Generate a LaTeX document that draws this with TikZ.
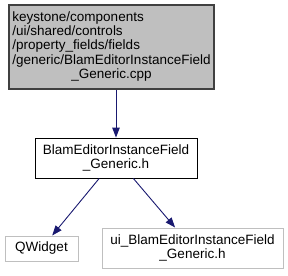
\documentclass[tikz,border=0pt]{standalone}
\usepackage{fontspec}
\setmainfont{Liberation Sans}
\usepackage{xcolor}
\definecolor{doxGreyFill}{HTML}{BFBFBF}
\definecolor{doxGreyDark}{HTML}{404040}
\definecolor{doxGreyLine}{HTML}{BFBFBF}
\definecolor{doxArrow}{HTML}{191970}
\usetikzlibrary{arrows.meta, positioning}
\tikzset{
  %% ── Boxes ────────────────────────────────────────────────────────────
  fichier/.style      = {draw=black, line width=0.9pt, fill=white, align=center,
                         inner sep=0pt, font=\fontsize{13.5}{14.3}\selectfont},
  fichierCourant/.style = {fichier, fill=doxGreyFill, draw=doxGreyDark,
                         line width=1.3pt},
  fichierExterne/.style = {fichier, draw=doxGreyLine, line width=1pt},
  %%
  %% ── Arrows ───────────────────────────────────────────────────────────
  inclusion/.style    = {-{Triangle[length=10pt, width=7.5pt]}, draw=doxArrow,
                         line width=0.9pt},
}

\begin{document}
\begin{tikzpicture}[x=1pt, y=-1pt]
\useasboundingbox (0,0) rectangle (288,275);

\node[fichierCourant, minimum width=205pt, minimum height=84pt] (cpp) at (111.5, 47)
     {\begin{tabular}{@{}l@{}}keystone/components\\ /ui/shared/controls\\
      /property\_fields/fields\\ /generic/BlamEditorInstanceField\\
      \multicolumn{1}{@{}c@{}}{\_Generic.cpp}\end{tabular}};

\node[fichier, minimum width=162pt, minimum height=40pt] (hdr) at (116, 158)
     {BlamEditorInstanceField\\ \_Generic.h};

\node[fichierExterne, minimum width=73pt, minimum height=25pt] (qw) at (41.5, 248.5)
     {QWidget};
\node[fichierExterne, minimum width=181pt, minimum height=40pt] (ui) at (192.5, 248)
     {ui\_BlamEditorInstanceField\\ \_Generic.h};

\draw[inclusion] (cpp.south -| hdr.north) -- (hdr.north);
\draw[inclusion] (hdr) -- (qw);
\draw[inclusion] (hdr) -- (ui);

\end{tikzpicture}
\end{document}
